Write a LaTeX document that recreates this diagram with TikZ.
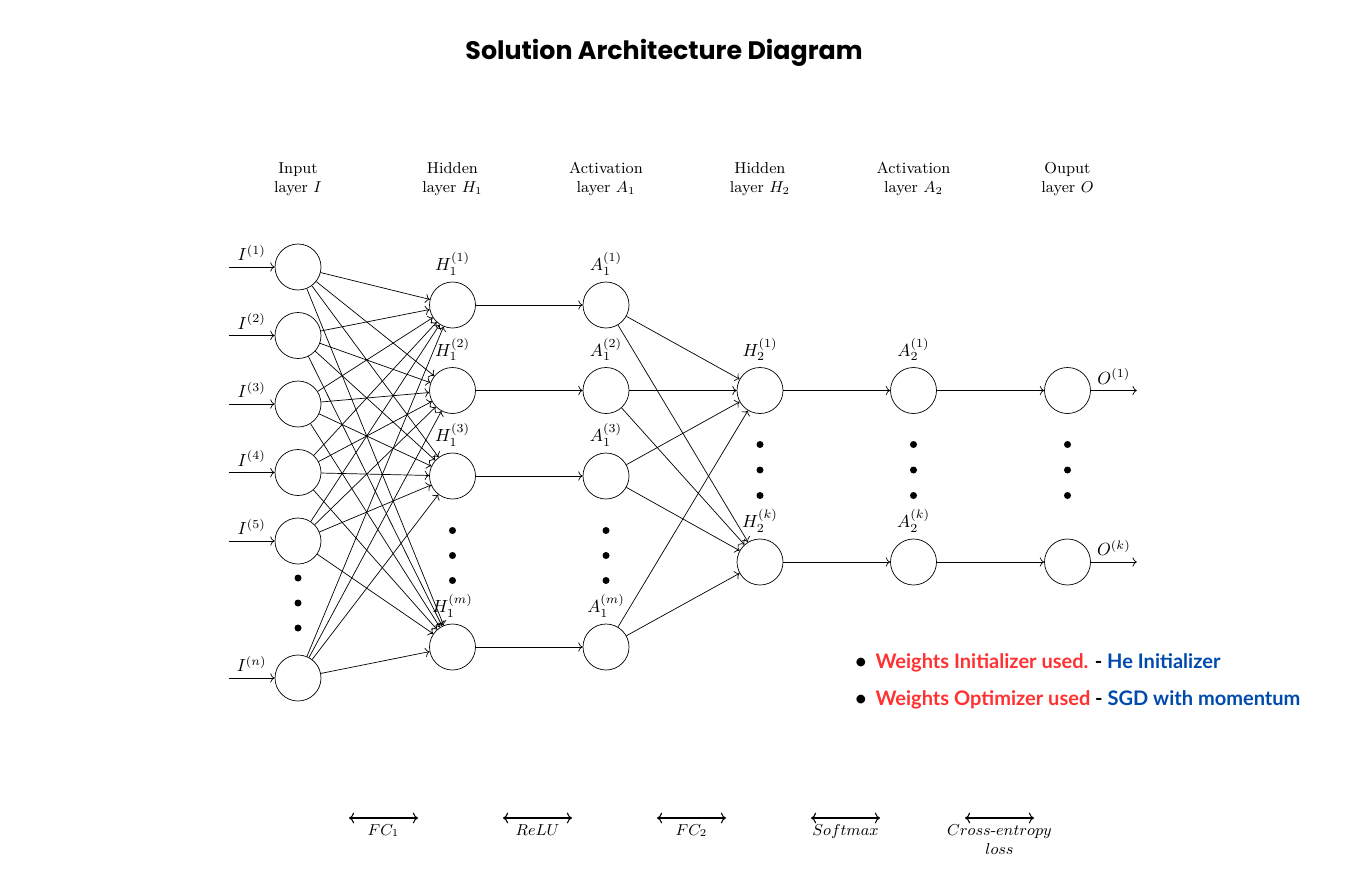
\documentclass[tikz,border=0pt]{standalone}
\usepackage{amsmath}
\usepackage{fontspec}
\usepackage{tikz}
\usetikzlibrary{
  arrows.meta,
  positioning,
  calc
}
\newfontfamily\titlefont{Poppins}
\newfontfamily\notefont{Lato}
\definecolor{notered}{RGB}{255, 49, 49}
\definecolor{noteblue}{RGB}{0, 74, 173}
\tikzset{
neuron/.style={
  draw,
  circle,
  minimum size=9.2mm,
  inner sep=0pt
},
dotmark/.style={
  circle,
  fill=black,
  minimum size=1.4mm,
  inner sep=0pt
},
layerlabel/.style={
  align=center,
  font=\small
},
oplabel/.style={
  align=center,
  font=\small
},
titletext/.style={
  font=\titlefont\bfseries\fontsize{14.4}{17}\selectfont
},
notetext/.style={
  font=\notefont\bfseries\fontsize{11.4}{14}\selectfont,
  anchor=west
},
conn/.style={
  ->
},
oparrow/.style={
  <->,
  semithick
}
}

\begin{document}
\begin{tikzpicture}
  \useasboundingbox (0,0) rectangle (27.08,-17.52);
  \node[titletext] (title) at (13.28,-1.06) {Solution Architecture Diagram};

  % layer titles
  \node[layerlabel] (tI) at (5.96,-3.58) {Input\\layer $I$};
  \node[layerlabel] (tH1) at (9.05,-3.58) {Hidden\\layer $H_1$};
  \node[layerlabel] (tA1) at (12.12,-3.58) {Activation\\layer $A_1$};
  \node[layerlabel] (tH2) at (15.20,-3.58) {Hidden\\layer $H_2$};
  \node[layerlabel] (tA2) at (18.27,-3.58) {Activation\\layer $A_2$};
  \node[layerlabel] (tO) at (21.35,-3.58) {Ouput\\layer $O$};

  % neurons
  \foreach \n/\y in {1/5.34, 2/6.71, 3/8.08, 4/9.45, 5/10.82, n/13.56} {
    \node[neuron] (I-\n) at (5.96,-\y) {};
    \coordinate (in-\n) at ($(I-\n.west)+(-0.92,0)$);
    \draw[conn] (in-\n) -- (I-\n) node[midway, above] {$I^{(\n)}$};
  }
  \foreach \n/\y in {1/6.10, 2/7.81, 3/9.52, m/12.94} {
    \node[neuron, label={above:$H_1^{(\n)}$}] (H1-\n) at (9.05,-\y) {};
    \node[neuron, label={above:$A_1^{(\n)}$}] (A1-\n) at (12.12,-\y) {};
    \draw[conn] (H1-\n) -- (A1-\n);
  }
  \foreach \n/\y in {1/7.81, k/11.24} {
    \node[neuron, label={above:$H_2^{(\n)}$}] (H2-\n) at (15.20,-\y) {};
    \node[neuron, label={above:$A_2^{(\n)}$}] (A2-\n) at (18.27,-\y) {};
    \node[neuron] (O-\n) at (21.35,-\y) {};
    \coordinate (out-\n) at ($(O-\n.east)+(0.92,0)$);
    \draw[conn] (H2-\n) -- (A2-\n);
    \draw[conn] (A2-\n) -- (O-\n);
    \draw[conn] (O-\n) -- (out-\n) node[midway, above] {$O^{(\n)}$};
  }

  % full connections
  \foreach \i in {1,2,3,4,5,n}
    \foreach \j in {1,2,3,m}
      \draw[conn] (I-\i) -- (H1-\j);
  \foreach \i in {1,2,3,m}
    \foreach \j in {1,k}
      \draw[conn] (A1-\i) -- (H2-\j);

  % vertical dots
  \foreach \y [count=\c] in {11.56, 12.06, 12.56}
    \node[dotmark] (dI\c) at (5.96,-\y) {};
  \foreach \y [count=\c] in {10.61, 11.11, 11.61} {
    \node[dotmark] (dH1\c) at (9.05,-\y) {};
    \node[dotmark] (dA1\c) at (12.12,-\y) {};
  }
  \foreach \y [count=\c] in {8.89, 9.40, 9.91} {
    \node[dotmark] (dH2\c) at (15.20,-\y) {};
    \node[dotmark] (dA2\c) at (18.27,-\y) {};
    \node[dotmark] (dO\c) at (21.35,-\y) {};
  }

  % operations between layers
  \foreach \n/\x/\t in {fc1/6.98/{$FC_1$}, relu/10.06/{$ReLU$}, fc2/13.14/{$FC_2$},
      soft/16.22/{$Softmax$}, loss/19.30/{$Cross\text{-}entropy$\\$loss$}} {
    \coordinate (\n-l) at (\x,-16.36);
    \coordinate (\n-r) at ($(\n-l)+(1.38,0)$);
    \draw[oparrow] (\n-l) -- (\n-r) node[midway, below, oplabel] {\t};
  }

  % notes
  \node[notetext] (note1) at (16.98,-13.26)
    {\textbullet\hspace{5pt}{\color{notered}Weights Initializer used.} - {\color{noteblue}He Initializer}};
  \node[notetext] (note2) at (16.98,-14.00)
    {\textbullet\hspace{5pt}{\color{notered}Weights Optimizer used} - {\color{noteblue}SGD with momentum}};
\end{tikzpicture}
\end{document}
